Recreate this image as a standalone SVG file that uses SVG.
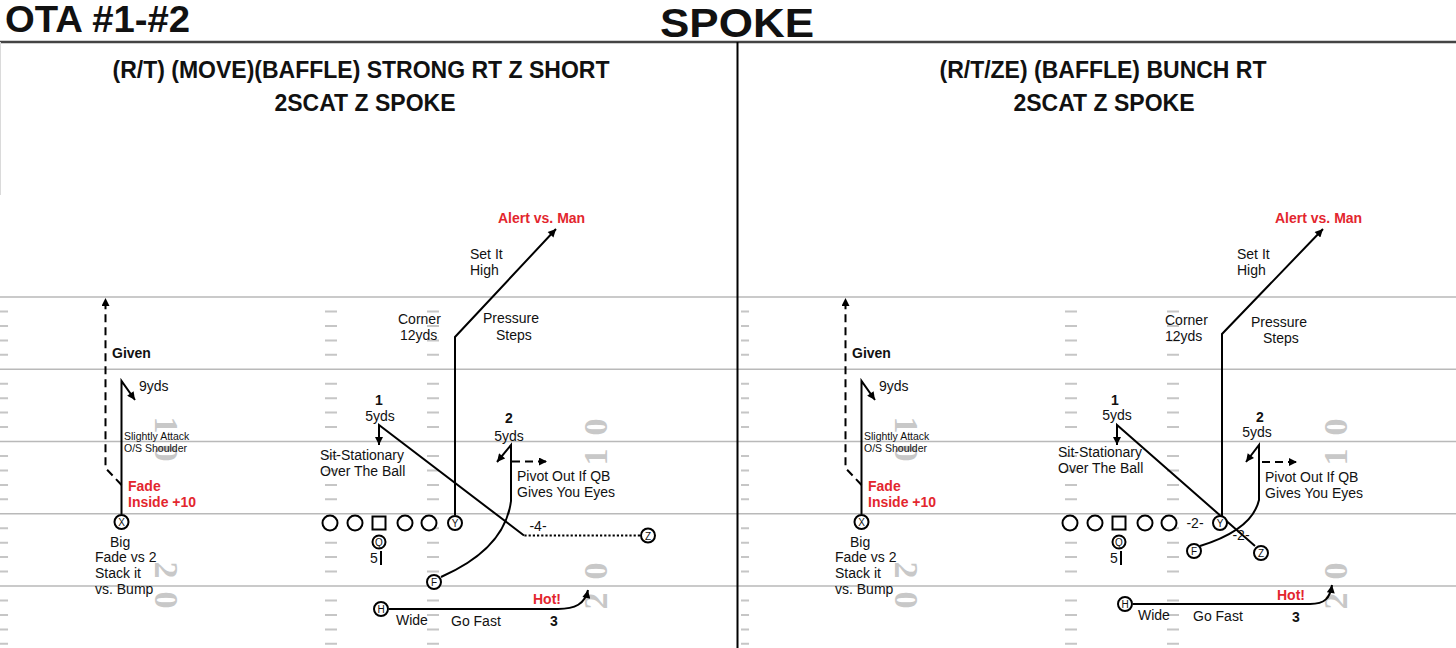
<svg xmlns="http://www.w3.org/2000/svg" width="1456" height="648" viewBox="0 0 1456 648">
<style>
text{font-family:"Liberation Sans",Arial,sans-serif;fill:#111}
.t{font-size:14px}
.bd{font-weight:bold}
.c{text-anchor:middle}
.red{fill:#e3262e;font-weight:bold;font-size:14px}
.sm{font-size:10.5px}
.ttl{font-size:23px;font-weight:bold;text-anchor:middle}
.num{font-family:"Liberation Serif","Times New Roman",serif;font-size:34px;font-weight:bold;fill:#c8c8c8;text-anchor:middle;dominant-baseline:central}
.fl{stroke:#b9b9b9;stroke-width:1.5}
.hash{stroke:#c6c6c6;stroke-width:2;fill:none}
.rt{fill:none;stroke:#000;stroke-width:2}
.ar{marker-end:url(#ah)}
.dash{stroke-dasharray:8 5}
.dot{stroke-dasharray:2.2 2}
.pc{fill:#fff;stroke:#000;stroke-width:2}
.pl{font-size:10px;text-anchor:middle;dominant-baseline:central}
</style>
<defs>
<marker id="ah" viewBox="0 0 10 10" refX="10" refY="5" markerWidth="9" markerHeight="8" markerUnits="userSpaceOnUse" orient="auto"><path d="M0,0 L10,5 L0,10 z" fill="#000"/></marker>
<path id="hashcol" d="M0 311.5h12M0 325.9h12M0 340.4h12M0 354.8h12M0 383.7h12M0 398.2h12M0 412.6h12M0 427.1h12M0 456h12M0 470.4h12M0 484.9h12M0 499.3h12M0 528.2h12M0 542.7h12M0 557.1h12M0 571.6h12M0 600.5h12M0 614.9h12M0 629.4h12M0 643.8h12"/>
</defs>
<rect width="1456" height="648" fill="#fff"/>

<g id="field">
<g class="fl">
<line x1="0" y1="297" x2="1456" y2="297"/>
<line x1="0" y1="369.3" x2="1456" y2="369.3"/>
<line x1="0" y1="441.5" x2="1456" y2="441.5"/>
<line x1="0" y1="513.8" x2="1456" y2="513.8"/>
<line x1="0" y1="586" x2="1456" y2="586"/>
</g>
<g class="hash">
<use href="#hashcol" transform="scale(0.67 1)"/>
<use href="#hashcol" x="325"/>
<use href="#hashcol" x="427"/>
<use href="#hashcol" transform="translate(741 0) scale(0.67 1)"/>
<use href="#hashcol" x="1065"/>
<use href="#hashcol" x="1167"/>
</g>
<g id="numbers">
<text class="num" transform="translate(166,425) rotate(90)">1</text>
<text class="num" transform="translate(166,453) rotate(90)">0</text>
<text class="num" transform="translate(166,570) rotate(90)">2</text>
<text class="num" transform="translate(166,600) rotate(90)">0</text>
<text class="num" transform="translate(595,427) rotate(-90)">0</text>
<text class="num" transform="translate(595,457) rotate(-90)">1</text>
<text class="num" transform="translate(595,571) rotate(-90)">0</text>
<text class="num" transform="translate(595,601) rotate(-90)">2</text>
<text class="num" transform="translate(906,425) rotate(90)">1</text>
<text class="num" transform="translate(906,453) rotate(90)">0</text>
<text class="num" transform="translate(906,570) rotate(90)">2</text>
<text class="num" transform="translate(906,600) rotate(90)">0</text>
<text class="num" transform="translate(1335,427) rotate(-90)">0</text>
<text class="num" transform="translate(1335,457) rotate(-90)">1</text>
<text class="num" transform="translate(1335,571) rotate(-90)">0</text>
<text class="num" transform="translate(1335,601) rotate(-90)">2</text>
</g>
</g>

<g id="frame">
<line x1="0" y1="42" x2="1456" y2="42" stroke="#444" stroke-width="2.5"/>
<line x1="737.5" y1="42" x2="737.5" y2="648" stroke="#000" stroke-width="2"/>
<line x1="0.5" y1="42" x2="0.5" y2="195" stroke="#dadada" stroke-width="1"/>
</g>

<g id="header">
<text x="5" y="32" font-size="37" font-weight="bold" textLength="185" lengthAdjust="spacingAndGlyphs">OTA #1-#2</text>
<text x="737" y="37" font-size="40" font-weight="bold" text-anchor="middle" textLength="154" lengthAdjust="spacingAndGlyphs">SPOKE</text>
<text class="ttl" x="361" y="78">(R/T) (MOVE)(BAFFLE) STRONG RT Z SHORT</text>
<text class="ttl" x="365" y="111">2SCAT Z SPOKE</text>
<text class="ttl" x="1103" y="78">(R/T/ZE) (BAFFLE) BUNCH RT</text>
<text class="ttl" x="1104" y="111">2SCAT Z SPOKE</text>
</g>

<g id="connectors">
<!-- left play -->
<path class="rt ar" d="M121.5 514 V381 L135 400"/>
<path class="rt ar dash" d="M121.5 485 L105.5 468 V298"/>
<path class="rt ar" d="M455 515 V337 L556 229"/>
<path class="rt dot" d="M640 535.5 H524"/>
<path class="rt ar" d="M524 535.5 L379 425 V445"/>
<path class="rt ar" d="M441 577 Q505 549 511 501 V445 L497 462"/>
<path class="rt ar dash" d="M512 461.5 H547"/>
<path class="rt ar" d="M389 609 H558 C575 609 585 604 588 590"/>
<path class="rt" d="M381 551 V565"/>
<!-- right play -->
<path class="rt ar" d="M861.5 514 V381 L875 400"/>
<path class="rt ar dash" d="M861.5 485 L845.5 468 V298"/>
<path class="rt ar" d="M1222 516 V334 L1323 229"/>
<path class="rt ar" d="M1255 546 L1117 425 V445"/>
<path class="rt ar" d="M1200 546 Q1252 530 1259 500 V445 L1246 462"/>
<path class="rt ar dash" d="M1262 462 H1297"/>
<path class="rt ar" d="M1133 604 H1310 C1325 604 1330 598 1332 585"/>
<path class="rt" d="M1121 551 V565"/>
</g>

<g id="left-players">
<g id="L-lt"><circle class="pc" cx="330" cy="523" r="7.5"/></g>
<g id="L-lg"><circle class="pc" cx="355" cy="523" r="7.5"/></g>
<g id="L-c"><rect class="pc" x="372.5" y="516.5" width="13" height="13"/></g>
<g id="L-rg"><circle class="pc" cx="405" cy="523" r="7.5"/></g>
<g id="L-rt"><circle class="pc" cx="429" cy="523" r="7.5"/></g>
<g id="L-Y"><circle class="pc" cx="455" cy="523" r="7"/><text class="pl" x="455" y="523.5">Y</text></g>
<g id="L-Q"><circle class="pc" cx="379" cy="542" r="6.5"/><text class="pl" x="379" y="542.5">Q</text></g>
<g id="L-X"><circle class="pc" cx="121.5" cy="522" r="7"/><text class="pl" x="121.5" y="522.5">X</text></g>
<g id="L-Z"><circle class="pc" cx="648" cy="535.5" r="7"/><text class="pl" x="648" y="536">Z</text></g>
<g id="L-F"><circle class="pc" cx="434" cy="582" r="7"/><text class="pl" x="434" y="582.5">F</text></g>
<g id="L-H"><circle class="pc" cx="381" cy="609" r="7"/><text class="pl" x="381" y="609.5">H</text></g>
</g>

<g id="right-players">
<g id="R-lt"><circle class="pc" cx="1070" cy="523" r="7.5"/></g>
<g id="R-lg"><circle class="pc" cx="1095" cy="523" r="7.5"/></g>
<g id="R-c"><rect class="pc" x="1112.5" y="516.5" width="13" height="13"/></g>
<g id="R-rg"><circle class="pc" cx="1145" cy="523" r="7.5"/></g>
<g id="R-rt"><circle class="pc" cx="1169" cy="523" r="7.5"/></g>
<g id="R-Y"><circle class="pc" cx="1220" cy="523" r="7"/><text class="pl" x="1220" y="523.5">Y</text></g>
<g id="R-Q"><circle class="pc" cx="1119" cy="542" r="6.5"/><text class="pl" x="1119" y="542.5">Q</text></g>
<g id="R-X"><circle class="pc" cx="861.5" cy="522" r="7"/><text class="pl" x="861.5" y="522.5">X</text></g>
<g id="R-Z"><circle class="pc" cx="1261" cy="553" r="7"/><text class="pl" x="1261" y="553.5">Z</text></g>
<g id="R-F"><circle class="pc" cx="1194" cy="551" r="7"/><text class="pl" x="1194" y="551.5">F</text></g>
<g id="R-H"><circle class="pc" cx="1125" cy="604" r="7"/><text class="pl" x="1125" y="604.5">H</text></g>
</g>

<g id="left-labels" class="t">
<text class="t bd" x="112" y="358">Given</text>
<text class="t" x="139" y="391">9yds</text>
<text class="sm" x="124" y="440">Slightly Attack</text>
<text class="sm" x="124" y="452">O/S Shoulder</text>
<text class="red" x="128" y="491">Fade</text>
<text class="red" x="128" y="507">Inside +10</text>
<text class="t" x="110" y="547">Big</text>
<text class="t" x="95" y="562">Fade vs 2</text>
<text class="t" x="95" y="578">Stack it</text>
<text class="t" x="95" y="594">vs. Bump</text>
<text class="red" x="498" y="223">Alert vs. Man</text>
<text class="t" x="470" y="259">Set It</text>
<text class="t" x="470" y="275">High</text>
<text class="t" x="398" y="324">Corner</text>
<text class="t" x="400" y="340">12yds</text>
<text class="t" x="483" y="323">Pressure</text>
<text class="t" x="496" y="340">Steps</text>
<text class="t bd c" x="379" y="405">1</text>
<text class="t c" x="380" y="421">5yds</text>
<text class="t" x="320" y="460">Sit-Stationary</text>
<text class="t" x="320" y="476">Over The Ball</text>
<text class="t bd c" x="509" y="423">2</text>
<text class="t c" x="509" y="441">5yds</text>
<text class="t" x="517" y="481">Pivot Out If QB</text>
<text class="t" x="517" y="497">Gives You Eyes</text>
<text class="t c" x="538" y="531" font-size="13">-4-</text>
<text class="t" x="370" y="563">5</text>
<text class="red" x="533" y="604">Hot!</text>
<text class="t" x="396" y="625">Wide</text>
<text class="t" x="451" y="626">Go Fast</text>
<text class="t bd c" x="554" y="626">3</text>
</g>

<g id="right-labels" class="t">
<text class="t bd" x="852" y="358">Given</text>
<text class="t" x="879" y="391">9yds</text>
<text class="sm" x="864" y="440">Slightly Attack</text>
<text class="sm" x="864" y="452">O/S Shoulder</text>
<text class="red" x="868" y="491">Fade</text>
<text class="red" x="868" y="507">Inside +10</text>
<text class="t" x="850" y="547">Big</text>
<text class="t" x="835" y="562">Fade vs 2</text>
<text class="t" x="835" y="578">Stack it</text>
<text class="t" x="835" y="594">vs. Bump</text>
<text class="red" x="1275" y="223">Alert vs. Man</text>
<text class="t" x="1237" y="259">Set It</text>
<text class="t" x="1237" y="275">High</text>
<text class="t" x="1165" y="325">Corner</text>
<text class="t" x="1165" y="341">12yds</text>
<text class="t" x="1251" y="327">Pressure</text>
<text class="t" x="1263" y="343">Steps</text>
<text class="t bd c" x="1115" y="405">1</text>
<text class="t c" x="1117" y="420">5yds</text>
<text class="t" x="1058" y="457">Sit-Stationary</text>
<text class="t" x="1058" y="473">Over The Ball</text>
<text class="t bd c" x="1260" y="422">2</text>
<text class="t c" x="1257" y="437">5yds</text>
<text class="t" x="1265" y="482">Pivot Out If QB</text>
<text class="t" x="1265" y="498">Gives You Eyes</text>
<text class="t c" x="1195" y="528" font-size="13">-2-</text>
<text class="t c" x="1241" y="540" font-size="13">-2-</text>
<text class="t" x="1110" y="563">5</text>
<text class="red" x="1277" y="600">Hot!</text>
<text class="t" x="1138" y="620">Wide</text>
<text class="t" x="1193" y="621">Go Fast</text>
<text class="t bd c" x="1296" y="622">3</text>
</g>
</svg>
